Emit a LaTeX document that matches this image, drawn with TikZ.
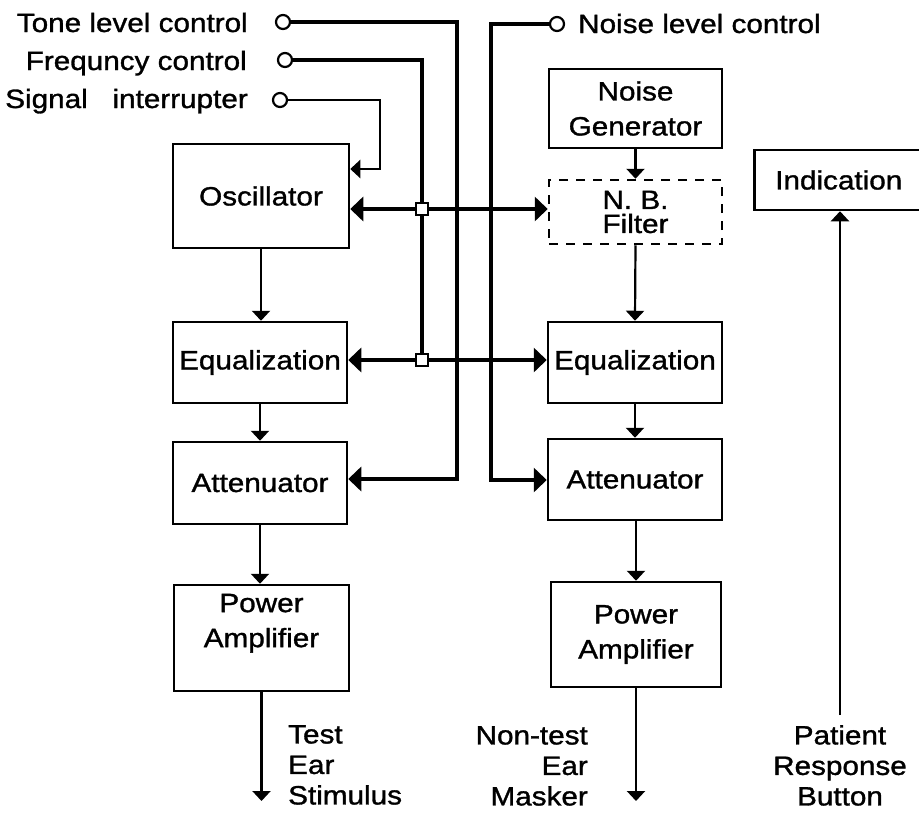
\documentclass[tikz,border=0pt]{standalone}
\usepackage{fontspec}
\setmainfont[FakeStretch=1.12,FakeBold=1.2]{Liberation Sans}
\usetikzlibrary{arrows.meta}
\begin{document}
\begin{tikzpicture}[x=1pt,y=-1pt,
  every node/.style={font=\fontsize{26.5}{35}\selectfont, inner sep=0pt},
  box/.style={draw, line width=2.5pt, align=center},
  dbox/.style={draw, line width=2.5pt, align=center, dash pattern=on 9pt off 8pt},
  sig/.style={line width=2.2pt, -{Triangle[width=18pt,length=10pt]}},
  ctl/.style={line width=4.4pt},
  tip/.style={-{Triangle[width=24pt,length=13pt]}},
  tips/.style={{Triangle[width=24pt,length=13pt]}-{Triangle[width=24pt,length=13pt]}},
  knob/.style={circle, draw, fill=white, line width=2.2pt, minimum size=14pt},
  junc/.style={rectangle, draw, fill=white, line width=2pt, minimum size=12pt},
  lbl/.style={font=\fontsize{26.5}{30.5}\selectfont}]
\useasboundingbox (0,0) rectangle (919,812);

% left column
\node[box, minimum width=176pt, minimum height=104pt] (osc) at (261,196) {Oscillator};
\node[box, minimum width=174pt, minimum height=81pt] (eqL) at (260,362.5) {Equalization};
\node[box, minimum width=174pt, minimum height=82pt] (attL) at (260,483) {Attenuator};
\node[box, minimum width=175pt, minimum height=106pt] (paL) at (261.5,638) {Power\\Amplifier\\\vphantom{A}};

% right column
\node[box, minimum width=173pt, minimum height=79pt] (ng) at (635.5,108.5) {Noise\\Generator};
\node[dbox, minimum width=173pt, minimum height=64pt, font=\fontsize{26.5}{24}\selectfont] (nb) at (635.5,212) {N. B.\\Filter};
\node[box, minimum width=174pt, minimum height=81pt] (eqR) at (635,362.5) {Equalization};
\node[box, minimum width=174pt, minimum height=81pt] (attR) at (635,479.5) {Attenuator};
\node[box, minimum width=170pt, minimum height=105pt] (paR) at (636,634.5) {Power\\Amplifier};
\node[box, anchor=west, minimum height=60pt, inner xsep=21pt, text width=150pt, align=left] (ind) at (753,180) {Indication};

% control knobs and labels
\node[knob] (ctone) at (283,22) {};
\node[knob] (cfreq) at (285,60) {};
\node[knob] (csig) at (280,100) {};
\node[knob] (cnoise) at (557,24) {};
\node[anchor=base east] (ltone) at (248,32) {Tone level control};
\node[anchor=base east] (lfreq) at (247,70) {Frequncy control};
\node[anchor=base east] (lsig) at (248,108) {Signal~~~interrupter};
\node[anchor=base west] (lnoise) at (578,33) {Noise level control};

% coordinates
\coordinate (sq1) at (422,209);
\coordinate (sq2) at (422,360);
\coordinate (tonex) at (457,479);
\coordinate (sigc) at (380,169);
\coordinate (nz) at (491,480);
\coordinate (outL) at (260,801);
\coordinate (outR) at (633,801);
\coordinate (btn) at (840,715);

% signal chain
\draw[sig] (osc.south) -- (osc.south |- eqL.north);
\draw[sig] (eqL.south) -- (eqL.south |- attL.north);
\draw[sig] (attL.south) -- (attL.south |- paL.north);
\draw[sig] (paL.south) -- (paL.south |- outL);
\draw[sig] (ng.south) -- (nb.north);
\draw[sig] (nb.south) -- (eqR.north);
\draw[sig] (eqR.south) -- (attR.north);
\draw[sig] (attR.south) -- (paR.south |- attR.south) -- (paR.north);
\draw[sig] (paR.south) -- (paR.south |- outR);
\draw[sig] (btn) -- (ind.south -| btn);

% control lines
\draw[sig] (csig.east) -| (sigc) -- (osc.east |- sigc);
\draw[ctl] (cfreq.east) -| (sq2);
\draw[ctl, tip] (ctone.east) -| (tonex) -- (attL.east |- tonex);
\draw[ctl, tip] (cnoise.west) -| (nz) -- (attR.west |- nz);
\draw[ctl, tips] (osc.east |- sq1) -- (nb.west |- sq1);
\draw[ctl, tips] (eqL.east |- sq2) -- (eqR.west |- sq2);

% junctions
\node[junc] (j1) at (sq1) {};
\node[junc] (j2) at (sq2) {};

% output labels
\node[lbl, anchor=north west, align=left] (test) at (288,725) {Test\\Ear\\Stimulus};
\node[lbl, anchor=north east, align=right] (nontest) at (588,726) {Non-test\\Ear\\Masker};
\node[lbl, anchor=north, align=center] (patient) at (840,725) {Patient\\Response\\Button};
\end{tikzpicture}
\end{document}
